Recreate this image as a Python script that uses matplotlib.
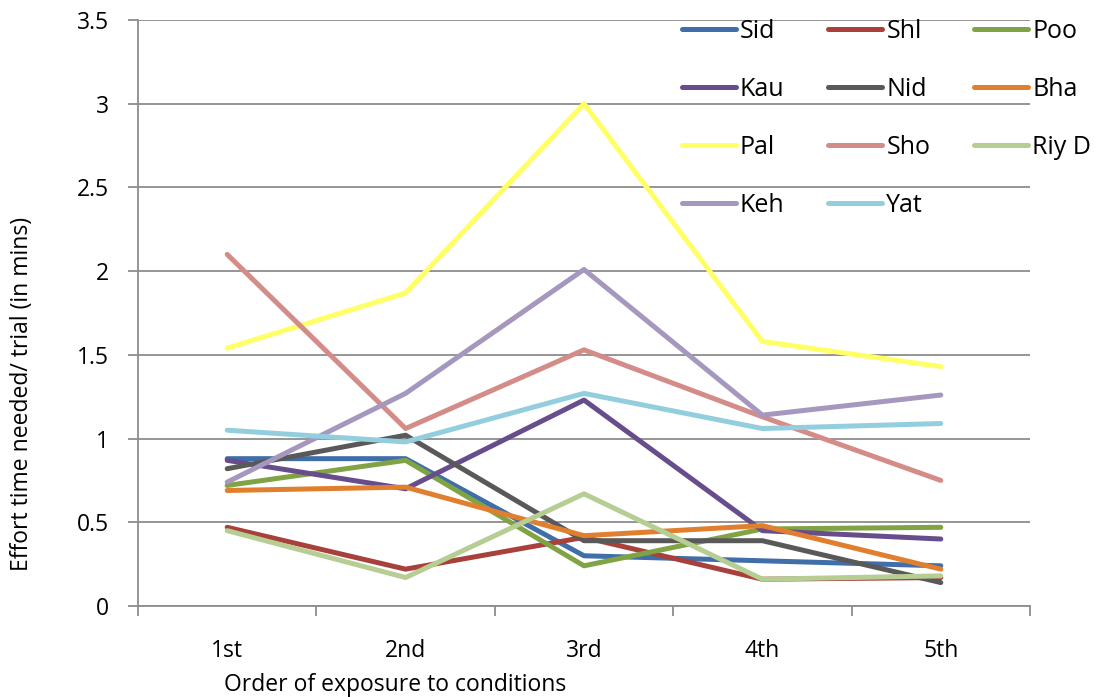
import matplotlib.pyplot as plt
from matplotlib.ticker import FixedLocator

plt.rcParams['font.family'] = ['Open Sans', 'DejaVu Sans']

categories = ['1st', '2nd', '3rd', '4th', '5th']

sid = [0.88, 0.88, 0.30, 0.27, 0.24]
shl = [0.47, 0.22, 0.41, 0.16, 0.17]
poo = [0.72, 0.87, 0.24, 0.46, 0.47]
kau = [0.87, 0.70, 1.23, 0.45, 0.40]
nid = [0.82, 1.02, 0.39, 0.39, 0.14]
bha = [0.69, 0.71, 0.42, 0.48, 0.22]
pal = [1.54, 1.87, 3.00, 1.58, 1.43]
sho = [2.10, 1.06, 1.53, 1.13, 0.75]
riy = [0.45, 0.17, 0.67, 0.16, 0.18]
keh = [0.74, 1.27, 2.01, 1.14, 1.26]
yat = [1.05, 0.98, 1.27, 1.06, 1.09]

names = ['Sid', 'Shl', 'Poo', 'Kau', 'Nid', 'Bha', 'Pal', 'Sho', 'Riy D', 'Keh', 'Yat']
series = [sid, shl, poo, kau, nid, bha, pal, sho, riy, keh, yat]
colors = ['#3F6EA8', '#A8403C', '#80A346', '#674D8C', '#595959', '#E0802F',
          '#FFFF66', '#D48C89', '#B6CD93', '#A597BE', '#93CEDE']

fig = plt.figure(figsize=(11.08, 6.97), dpi=100)
ax = fig.add_axes([138/1108, 1 - 606/697, (1030-138)/1108, (606-20)/697])

x = list(range(1, len(categories) + 1))
lines = {}
for name, vals, c in zip(names, series, colors):
    ln, = ax.plot(x, vals, color=c, lw=3.6, solid_capstyle='round',
                  solid_joinstyle='round', label=name)
    lines[name] = ln

grid_c = '#8C8C8C'
ax.set_ylim(0, 3.5)
ax.set_xlim(0.5, 5.5)
ax.set_yticks([0, 0.5, 1, 1.5, 2, 2.5, 3, 3.5])
ax.set_yticklabels(['0', '0.5', '1', '1.5', '2', '2.5', '3', '3.5'])
ax.grid(axis='y', color=grid_c, lw=1.3)
ax.set_axisbelow(True)

ax.set_xticks(x)
ax.set_xticklabels(categories)
ax.xaxis.set_minor_locator(FixedLocator([0.5, 1.5, 2.5, 3.5, 4.5, 5.5]))
ax.tick_params(axis='x', which='major', length=0, pad=24, labelsize=16.5)
ax.tick_params(axis='x', which='minor', length=7, width=1.3, color=grid_c)
ax.tick_params(axis='y', length=7, width=1.3, color=grid_c, pad=14, labelsize=16.5)

for s in ['top', 'right']:
    ax.spines[s].set_visible(False)
for s in ['left', 'bottom']:
    ax.spines[s].set_color(grid_c)
    ax.spines[s].set_linewidth(1.3)

order = ['Sid', 'Kau', 'Pal', 'Keh', 'Shl', 'Nid', 'Sho', 'Yat', 'Poo', 'Bha', 'Riy D']
leg = ax.legend([lines[n] for n in order], order, ncol=3, loc='upper left',
                bbox_to_anchor=(682/1108, 1 - 19/697), bbox_transform=fig.transFigure,
                frameon=False, fontsize=18, handlelength=2.16, handletextpad=0.16,
                columnspacing=1.75, labelspacing=1.32, borderpad=0, borderaxespad=0)

fig.text(22/1108, 1 - 394/697, 'Effort time needed/ trial (in mins)', rotation=90,
         ha='center', va='center', fontsize=16.5)
fig.text(395/1108, 1 - 685/697, 'Order of exposure to conditions',
         ha='center', va='center', fontsize=16.5)

fig.savefig('out.png', dpi=100)
